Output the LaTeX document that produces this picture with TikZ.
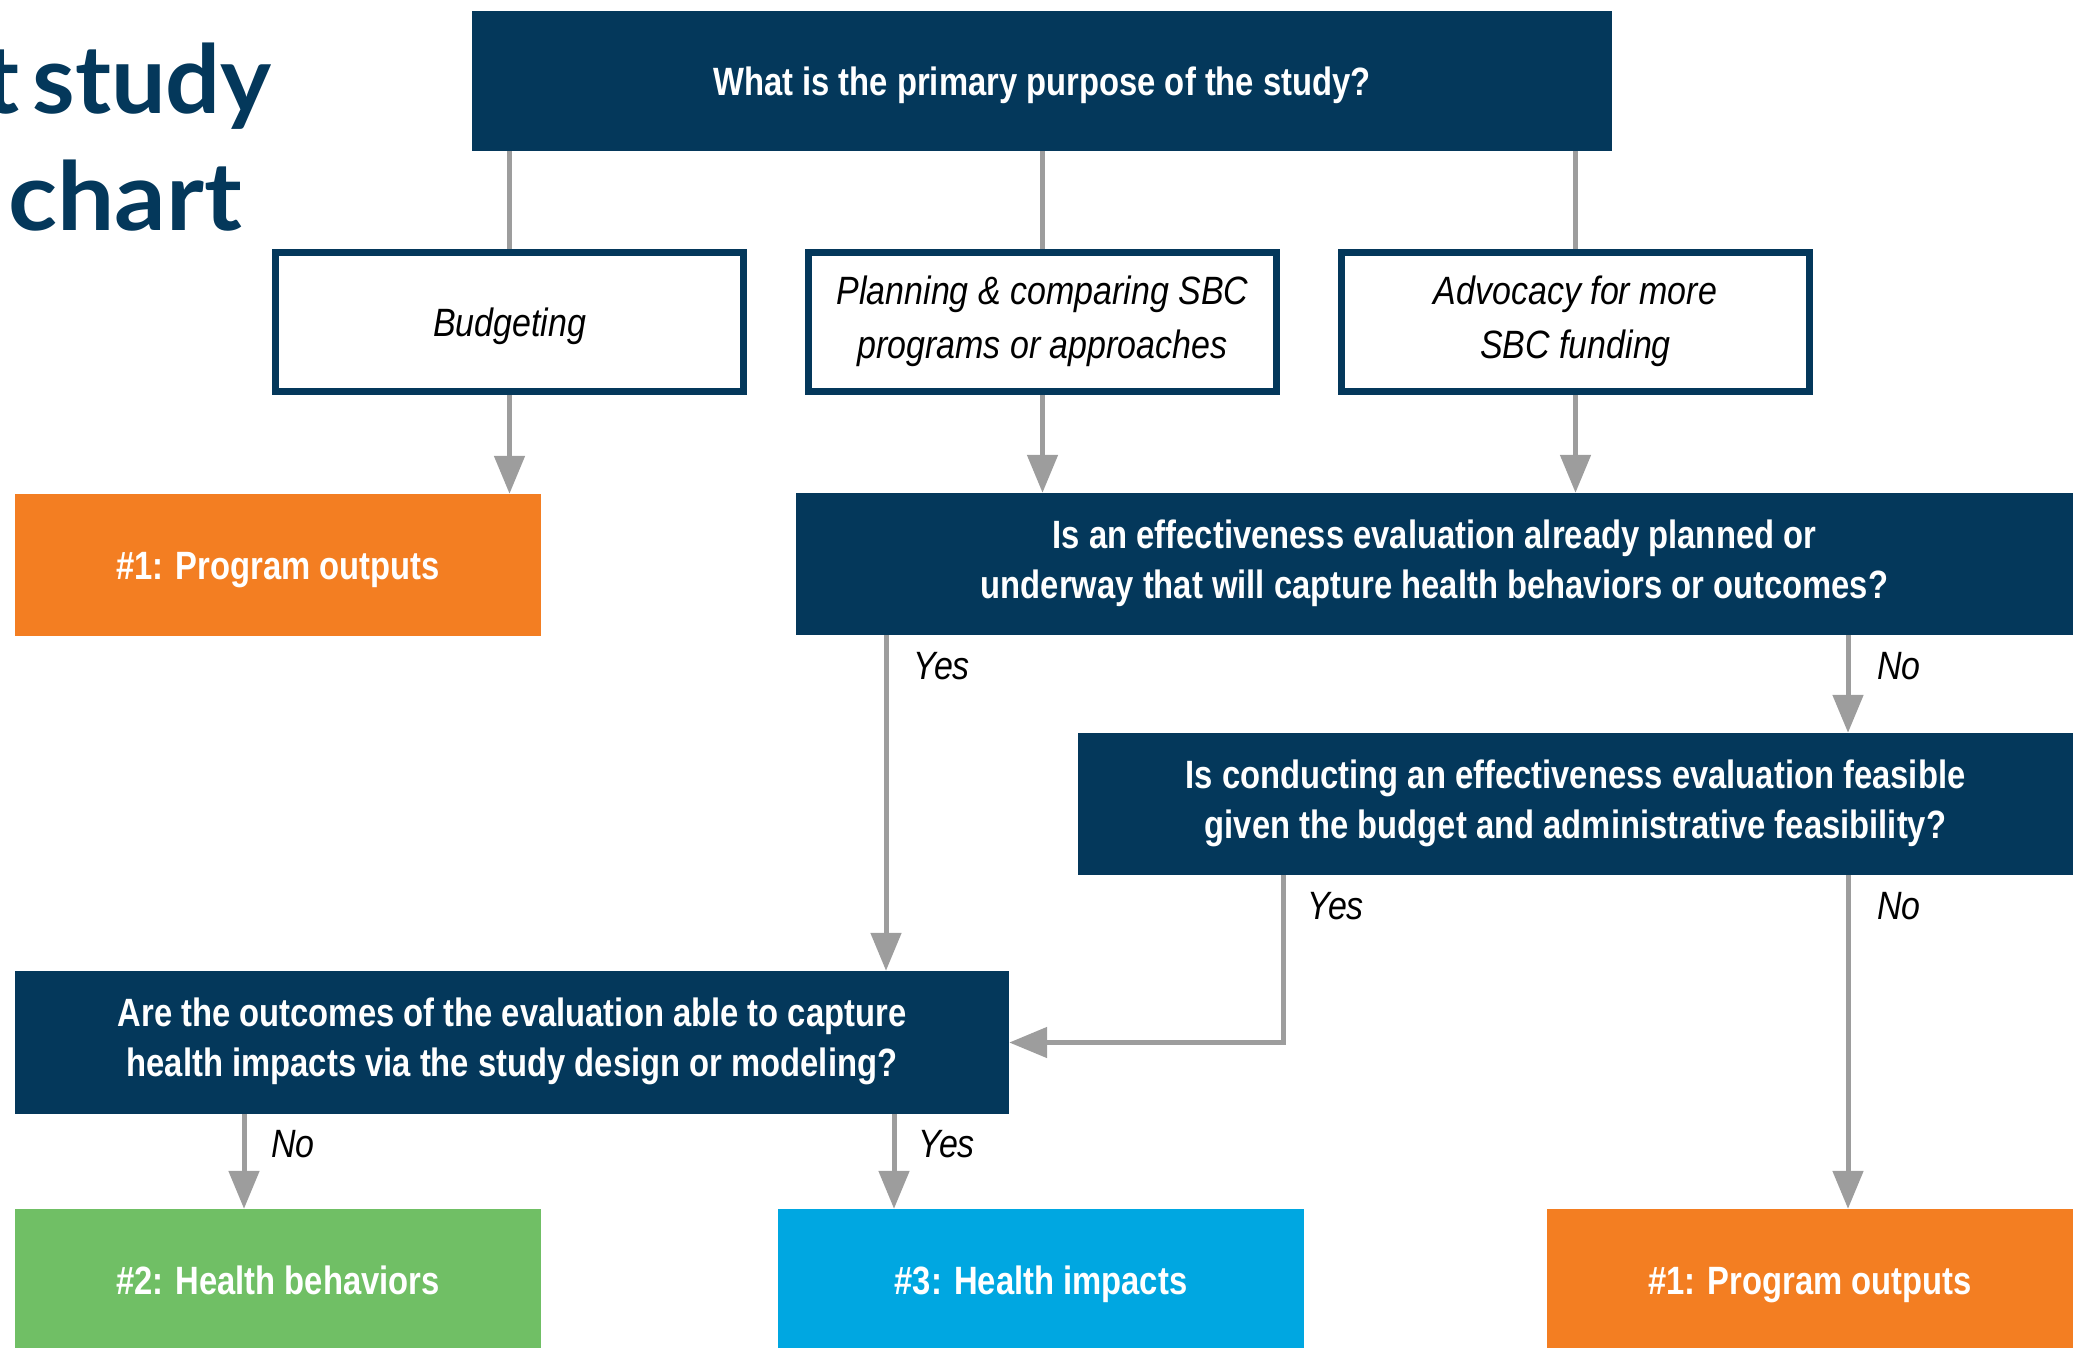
\documentclass[tikz,border=0pt]{standalone}
\usepackage{fontspec}
\setmainfont{Liberation Sans}
\newfontfamily\condb{Liberation Sans}[FakeStretch=0.83]
\newfontfamily\condi{Liberation Sans}[FakeStretch=0.86]
\newfontfamily\titlefontA{Lato}[FakeStretch=1.02]
\newfontfamily\titlefontB{Lato}[FakeStretch=1.07]
\usetikzlibrary{arrows.meta,backgrounds}
\definecolor{navy}{HTML}{04385B}
\definecolor{orangebox}{HTML}{F37E22}
\definecolor{greenbox}{HTML}{70BF65}
\definecolor{bluebox}{HTML}{00A7E1}
\definecolor{connc}{HTML}{9D9D9D}
% struts that centre the capitals of the text in its box
\newcommand\capstrutTop{\rule{0pt}{38.3pt}}
\newcommand\capstrutBot{\rule[-10pt]{0pt}{10pt}}
\newcommand\narrowspace{\spaceskip=13pt\relax}
\begin{document}
\begin{tikzpicture}[x=1pt,y=-1pt,
  every node/.append style={execute at begin node=\capstrutTop,execute at end node=\capstrutBot},
  qbox/.style={fill=navy,text=white,inner sep=0pt,align=center,font=\condb\bfseries\fontsize{39.5}{50}\selectfont},
  obox/.style={draw=navy,line width=7pt,fill=white,inner sep=0pt,align=center,text=black,
    minimum width=468pt,minimum height=139pt,font=\condi\itshape\fontsize{39.5}{54}\selectfont},
  rbox/.style={text=white,inner sep=0pt,align=center,minimum width=526pt,minimum height=142pt,
    font=\condb\bfseries\fontsize{39.5}{50}\selectfont},
  conn/.style={draw=connc,line width=5pt},
  arr/.style={conn,-{Triangle[length=38pt,width=30pt]}},
  lbl/.style={anchor=west,inner sep=0pt,text=black,font=\condi\itshape\fontsize{39.5}{46}\selectfont},
  ttl/.style={inner sep=0pt,text=navy,execute at begin node={},execute at end node={}}]
\useasboundingbox (0,0) rectangle (2080,1347);
\clip (0,0) rectangle (2080,1347);

% title (cut off at the left edge)
\node[ttl,anchor=base east,font=\titlefontA\bfseries\fontsize{95}{117}\selectfont] (t1) at (272,113) {\narrowspace t study};
\node[ttl,anchor=base west,font=\titlefontB\bfseries\fontsize{95}{117}\selectfont] (t2) at (8,230) {chart};

% nodes
\node[qbox,minimum width=1140pt,minimum height=140pt] (top) at (1042,81) {What is the primary purpose of the study?};
\node[obox] (budg) at (509.5,322) {Budgeting};
\node[obox] (plan) at (1042.5,322) {Planning \& comparing SBC\\programs or approaches};
\node[obox] (adv) at (1575.5,322) {Advocacy for more\\SBC funding};
\node[rbox,fill=orangebox] (out1) at (278,565) {\#1: Program outputs};
\node[qbox,minimum width=1277pt,minimum height=142pt] (q2) at (1434.5,564) {Is an effectiveness evaluation already planned or\\underway that will capture health behaviors or outcomes?};
\node[qbox,minimum width=995pt,minimum height=142pt] (q3) at (1575.5,804) {Is conducting an effectiveness evaluation feasible\\given the budget and administrative feasibility?};
\node[qbox,minimum width=994pt,minimum height=143pt] (q4) at (512,1042.5) {Are the outcomes of the evaluation able to capture\\health impacts via the study design or modeling?};
\node[rbox,fill=greenbox] (beh) at (278,1280) {\#2: Health behaviors};
\node[rbox,fill=bluebox] (imp) at (1041,1280) {\#3: Health impacts};
\node[rbox,fill=orangebox] (out1b) at (1810,1280) {\#1: Program outputs};

% x positions of connectors
\coordinate (xa) at (886,0);
\coordinate (xb) at (1848,0);
\coordinate (xc) at (1283,0);
\coordinate (xd) at (244,0);
\coordinate (xe) at (894,0);

\begin{pgfonlayer}{background}
\draw[conn] (top.south -| budg.north) -- (budg.north);
\draw[conn] (top.south -| plan.north) -- (plan.north);
\draw[conn] (top.south -| adv.north) -- (adv.north);
\draw[arr] (budg.south) -- (budg.south |- out1.north);
\draw[arr] (plan.south) -- (plan.south |- q2.north);
\draw[arr] (adv.south) -- (adv.south |- q2.north);
\draw[arr] (q2.south -| xa) -- (q4.north -| xa);
\draw[arr] (q2.south -| xb) -- (q3.north -| xb);
\draw[arr] (q3.south -| xc) |- (q4.east);
\draw[arr] (q3.south -| xb) -- (out1b.north -| xb);
\draw[arr] (q4.south -| xd) -- (beh.north -| xd);
\draw[arr] (q4.south -| xe) -- (imp.north -| xe);
\end{pgfonlayer}

% branch labels
\node[lbl] (l1) at (913,665) {Yes};
\node[lbl] (l2) at (1877,665) {No};
\node[lbl] (l3) at (1307,905) {Yes};
\node[lbl] (l4) at (1877,905) {No};
\node[lbl] (l5) at (271,1143) {No};
\node[lbl] (l6) at (918,1143) {Yes};
\end{tikzpicture}
\end{document}
